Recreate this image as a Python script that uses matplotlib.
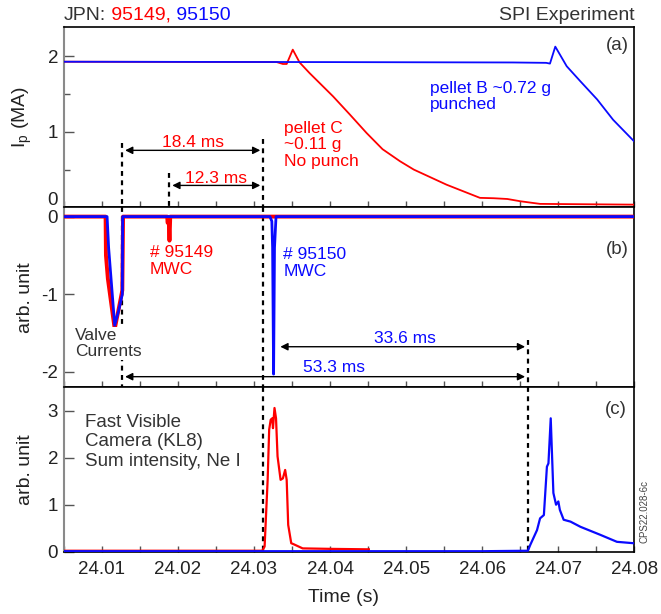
"""
SPI experiment: plasma current, valve/MWC signals and fast camera intensity
for JPN 95149 (red) and 95150 (blue). Writes out.png.
"""

import matplotlib

matplotlib.use("Agg")
import matplotlib.pyplot as plt
from matplotlib.ticker import FixedLocator, MultipleLocator

plt.rcParams["font.family"] = ["Liberation Sans", "DejaVu Sans"]
plt.rcParams["mathtext.fontset"] = "custom"
plt.rcParams["mathtext.rm"] = "Liberation Sans"
plt.rcParams["axes.unicode_minus"] = False

RED = "#ff0000"
BLUE = "#0a0aff"
INK = "#333333"

# --- event times (s) -------------------------------------------------------
T_VALVE = 24.0127      # valve current end
T_MWC_RED = 24.0189    # MWC signal, 95149
T_MWC_BLUE = 24.0331   # MWC signal, 95150 (arrow start)
T_CAM_RED = 24.0312    # camera onset, 95149
T_CAM_BLUE = 24.0660   # camera onset, 95150

# --- (a) plasma current, MA -----------------------------------------------
ip_red_t = [24.005, 24.033, 24.0338, 24.0343, 24.0351, 24.0360, 24.0373,
            24.0404, 24.0426, 24.0448, 24.0469, 24.0492, 24.0510, 24.0553,
            24.0597, 24.0615, 24.0633, 24.0650, 24.0676, 24.080]
ip_red = [1.93, 1.925, 1.90, 1.90, 2.09, 1.92, 1.78,
          1.47, 1.23, 0.985, 0.77, 0.61, 0.50, 0.30,
          0.125, 0.12, 0.11, 0.08, 0.045, 0.035]

ip_blue_t = [24.005, 24.040, 24.064, 24.0684, 24.0689, 24.0696, 24.0711,
             24.0729, 24.0751, 24.0772, 24.0800]
ip_blue = [1.93, 1.925, 1.92, 1.915, 1.905, 2.13, 1.87,
           1.67, 1.43, 1.16, 0.87]

# --- (b) valve currents / MWC, arb. unit ----------------------------------
mwc_red_t = [24.005, 24.0105, 24.01055, 24.0108, 24.0117, 24.0122, 24.0127,
             24.0128, 24.0186, 24.01865, 24.0188, 24.0189, 24.0190, 24.080]
mwc_red = [0, 0, -0.5, -0.8, -1.45, -1.2, -0.95,
           0, 0, -0.08, -0.05, -0.31, 0, 0]

mwc_blue_t = [24.005, 24.0107, 24.0109, 24.0117, 24.0122, 24.0127, 24.01275,
              24.0321, 24.03235, 24.03245, 24.03258, 24.0327, 24.0329, 24.080]
mwc_blue = [0, 0, -0.4, -1.40, -1.22, -1.0, 0,
            0, -0.06, -0.4, -2.03, -0.4, 0, 0]

# --- (c) fast visible camera, arb. unit -----------------------------------
cam_red_t = [24.005, 24.0311, 24.0314, 24.0318, 24.0320, 24.0322, 24.0324,
             24.0325, 24.0327, 24.0329, 24.0331, 24.0335, 24.0338, 24.0341,
             24.0343, 24.0345, 24.0349, 24.0352, 24.0364, 24.0400, 24.0451]
cam_red = [0.02, 0.02, 0.11, 1.53, 2.6, 2.81, 2.84,
           2.63, 3.06, 2.84, 2.03, 1.53, 1.56, 1.74,
           1.53, 0.57, 0.18, 0.16, 0.07, 0.06, 0.05]

cam_blue_t = [24.005, 24.060, 24.0660, 24.0663, 24.0672, 24.0676, 24.0681,
              24.0685, 24.0687, 24.0690, 24.06935, 24.0697, 24.0700, 24.0702,
              24.0707, 24.0716, 24.0729, 24.0755, 24.0777, 24.0799]
cam_blue = [0.01, 0.01, 0.02, 0.14, 0.46, 0.71, 0.78,
            1.81, 1.88, 2.84, 1.25, 1.0, 1.07, 0.89,
            0.68, 0.64, 0.53, 0.36, 0.21, 0.18]

XLIM = (24.005, 24.08)
TICK_PT = 13.5
NOTE_PT = 12.5


def style_axis(ax, ylim, yticks, yminor=None):
    ax.set_xlim(*XLIM)
    ax.set_ylim(*ylim)
    ax.xaxis.set_major_locator(MultipleLocator(0.01))
    ax.xaxis.set_minor_locator(MultipleLocator(0.005))
    ax.yaxis.set_major_locator(FixedLocator(yticks))
    if yminor:
        ax.yaxis.set_minor_locator(FixedLocator(yminor))
    ax.tick_params(axis="x", which="both", direction="in", length=4,
                   width=1, color="#555555", labelsize=TICK_PT,
                   labelcolor="#222222", pad=7)
    ax.tick_params(axis="y", which="major", direction="in", length=7,
                   width=1, color="#555555", labelsize=TICK_PT,
                   labelcolor="#222222", pad=4)
    ax.tick_params(axis="y", which="minor", direction="in", length=4.5,
                   width=1, color="#555555")
    for side in ("top", "bottom", "right"):
        ax.spines[side].set_color("black")
        ax.spines[side].set_linewidth(1.2)
    ax.spines["left"].set_color("#8a8a8a")
    ax.spines["left"].set_linewidth(1.5)


def dashed(ax, t, y0, y1):
    ax.plot([t, t], [y0, y1], color="black", lw=1.6, ls=(0, (2.2, 2.0)),
            zorder=1, clip_on=False)


def span_arrow(ax, x0, x1, y):
    ax.annotate("", xy=(x1, y), xytext=(x0, y),
                arrowprops=dict(arrowstyle="<|-|>", color="black", lw=1.0,
                                mutation_scale=11, shrinkA=2, shrinkB=2))


def render(path="out.png"):
    fig = plt.figure(figsize=(6.61, 6.14), dpi=100)
    fig.patch.set_facecolor("white")
    left, width = 0.0964, 0.8634
    ax_a = fig.add_axes([left, 0.6624, width, 0.2936])
    ax_b = fig.add_axes([left, 0.3692, width, 0.2932])
    ax_c = fig.add_axes([left, 0.1015, width, 0.2677])

    # (a) plasma current
    style_axis(ax_a, (0, 2.39), [0, 1, 2], [0.5, 1.5])
    ax_a.set_yticklabels(["", "1", "2"])
    ax_a.annotate("0", xy=(0, 0), xycoords=("axes fraction", "data"),
                  xytext=(-4, 5), textcoords="offset points", ha="right",
                  va="center", fontsize=TICK_PT, color="#222222")
    ax_a.plot(ip_red_t, ip_red, color=RED, lw=1.3, zorder=3)
    ax_a.plot(ip_blue_t, ip_blue, color=BLUE, lw=1.3, zorder=3)
    dashed(ax_a, T_VALVE, 0.85, 0)
    dashed(ax_a, T_MWC_RED, 0.455, 0)
    dashed(ax_a, T_CAM_RED, 0.90, 0)
    span_arrow(ax_a, T_VALVE, T_CAM_RED, 0.755)
    span_arrow(ax_a, T_MWC_RED, T_CAM_RED, 0.29)
    ax_a.text((T_VALVE + T_CAM_RED) / 2, 0.86, "18.4 ms", color=RED,
              fontsize=NOTE_PT, ha="center", va="center")
    ax_a.text((T_MWC_RED + T_CAM_RED) / 2, 0.385, "12.3 ms", color=RED,
              fontsize=NOTE_PT, ha="center", va="center")
    ax_a.text(24.0340, 0.826, "pellet C\n~0.11 g\nNo punch", color=RED,
              fontsize=NOTE_PT, ha="left", va="center", linespacing=1.15)
    ax_a.text(24.0531, 1.47, "pellet B ~0.72 g\npunched", color=BLUE,
              fontsize=NOTE_PT, ha="left", va="center", linespacing=1.15)
    ax_a.text(0.99, 0.90, "(a)", transform=ax_a.transAxes, color=INK,
              fontsize=TICK_PT, ha="right", va="center")
    ax_a.set_ylabel(r"I$_{\mathrm{p}}$ (MA)", fontsize=14, color="#222222")
    ax_a.yaxis.set_label_coords(-0.052, 0.5)
    ax_a.tick_params(axis="x", labelbottom=False)

    # (b) valve currents and MWC
    style_axis(ax_b, (-2.2, 0.12), [0, -1, -2])
    ax_b.plot(mwc_red_t, mwc_red, color=RED, lw=2.8, zorder=3)
    ax_b.plot(mwc_blue_t, mwc_blue, color=BLUE, lw=2.0, zorder=4)
    dashed(ax_b, T_VALVE, 0.12, -2.2)
    dashed(ax_b, T_CAM_RED, 0.12, -2.2)
    dashed(ax_b, T_CAM_BLUE, -1.59, -2.2)
    span_arrow(ax_b, T_MWC_BLUE, T_CAM_BLUE, -1.677)
    span_arrow(ax_b, T_VALVE, T_CAM_BLUE, -2.063)
    ax_b.text(24.0499, -1.565, "33.6 ms", color=BLUE, fontsize=NOTE_PT,
              ha="center", va="center")
    ax_b.text(24.0405, -1.947, "53.3 ms", color=BLUE, fontsize=NOTE_PT,
              ha="center", va="center")
    ax_b.text(24.01634, -0.576, "# 95149\nMWC", color=RED, fontsize=NOTE_PT,
              ha="left", va="center", linespacing=1.15)
    ax_b.text(24.03387, -0.597, "# 95150\nMWC", color=BLUE, fontsize=NOTE_PT,
              ha="left", va="center", linespacing=1.15)
    ax_b.text(24.00649, -1.633, "Valve\nCurrents", color=INK,
              fontsize=NOTE_PT, ha="left", va="center", linespacing=1.1,
              zorder=5, bbox=dict(facecolor="white", edgecolor="none",
                                  pad=0.5))
    ax_b.text(0.99, 0.763, "(b)", transform=ax_b.transAxes, color=INK,
              fontsize=TICK_PT, ha="right", va="center")
    ax_b.set_ylabel("arb. unit", fontsize=14, color="#222222")
    ax_b.yaxis.set_label_coords(-0.052, 0.5)
    ax_b.tick_params(axis="x", labelbottom=False)

    # (c) fast visible camera
    style_axis(ax_c, (0, 3.5), [0, 1, 2, 3])
    ax_c.plot(cam_red_t, cam_red, color=RED, lw=1.6, zorder=3)
    ax_c.plot(cam_blue_t, cam_blue, color=BLUE, lw=1.6, zorder=4)
    dashed(ax_c, T_CAM_RED, 3.5, 0)
    dashed(ax_c, T_CAM_BLUE, 3.5, 0)
    ax_c.text(24.0078, 2.34, "Fast Visible\nCamera (KL8)\nSum intensity, Ne I",
              color=INK, fontsize=13.5, ha="left", va="center",
              linespacing=1.2)
    ax_c.text(0.986, 0.866, "(c)", transform=ax_c.transAxes, color=INK,
              fontsize=TICK_PT, ha="right", va="center")
    ax_c.set_ylabel("arb. unit", fontsize=14, color="#222222")
    ax_c.yaxis.set_label_coords(-0.052, 0.5)
    ax_c.set_xlabel("Time (s)", fontsize=14, color="#222222")
    ax_c.xaxis.set_label_coords(0.49, -0.225)
    ax_c.set_xticks([24.01, 24.02, 24.03, 24.04, 24.05, 24.06, 24.07, 24.08])
    ax_c.set_xticklabels(["24.01", "24.02", "24.03", "24.04", "24.05",
                          "24.06", "24.07", "24.08"])

    # header
    y_head = 1 - 15 / 614
    head = fig.text(left, y_head, "JPN:", fontsize=14, color=INK,
                    ha="left", va="center")
    ann_red = ax_a.annotate(" 95149,", xy=(1, 0), xycoords=head,
                            fontsize=14, color=RED, ha="left", va="bottom",
                            annotation_clip=False)
    ax_a.annotate(" 95150", xy=(1, 0), xycoords=ann_red, fontsize=14,
                  color=BLUE, ha="left", va="bottom", annotation_clip=False)
    fig.text(left + width, y_head, "SPI Experiment", fontsize=14, color=INK,
             ha="right", va="center")
    fig.text(644 / 661, 1 - 511.7 / 614, "CPS22.028-6c", fontsize=7,
             color="#444444", rotation=90, ha="center", va="center")

    fig.savefig(path, dpi=100, facecolor="white")
    plt.close(fig)


if __name__ == "__main__":
    render()
